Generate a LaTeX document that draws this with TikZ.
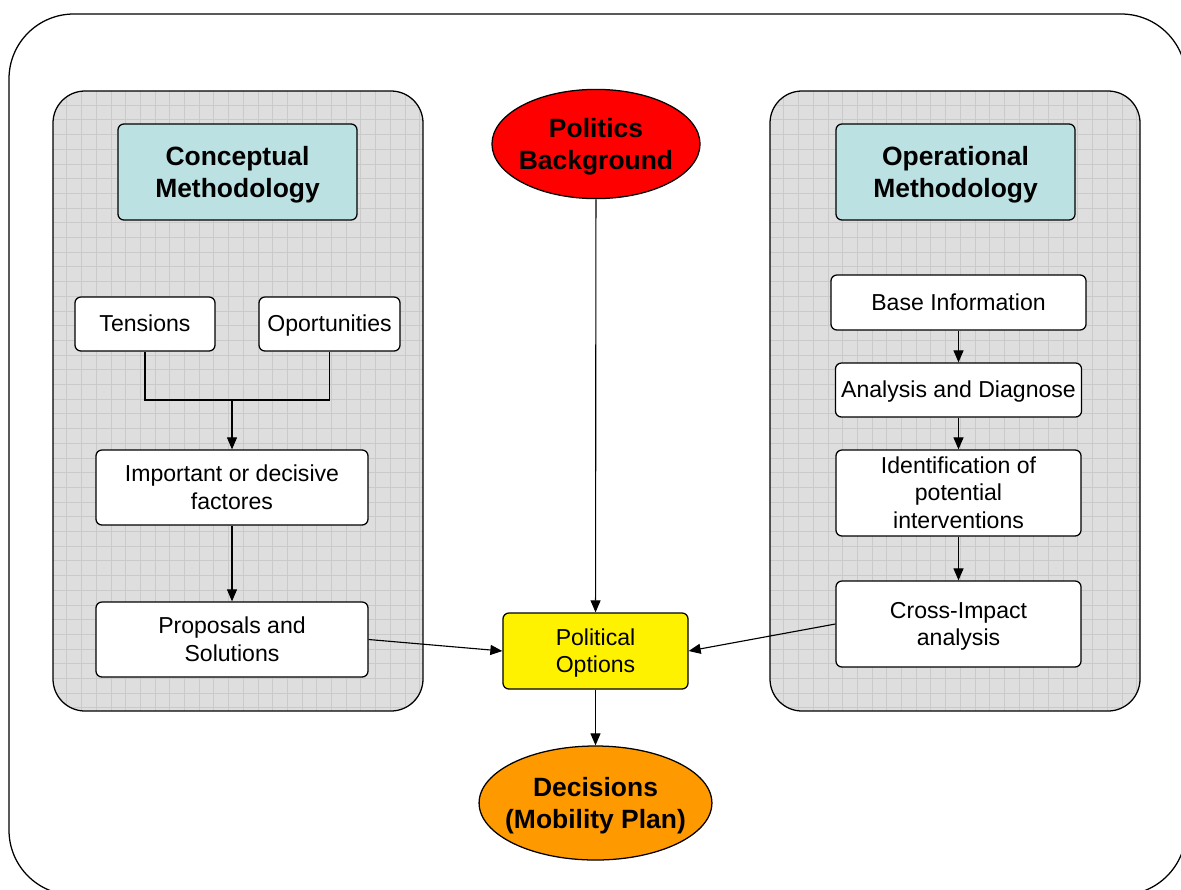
\documentclass[tikz,border=0pt]{standalone}
\usepackage{fontspec}
\setmainfont{Liberation Sans}
\usetikzlibrary{arrows.meta,shapes.geometric}
\definecolor{panelgray}{HTML}{DEDEDE}
\definecolor{gridgray}{HTML}{CACACA}
\definecolor{titlecyan}{HTML}{BCE1E2}
\definecolor{decorange}{HTML}{FF9900}
\tikzset{
  txt/.style={font=\fontsize{16.4}{19.9}\selectfont,align=center,inner sep=0pt,text depth=3.48pt},
  bold/.style={font=\fontsize{18.8}{22.8}\selectfont\bfseries,align=center,inner sep=0pt,text depth=3.99pt},
  one/.style={text height=14.84pt},
  two/.style={text height=34.74pt},
  three/.style={text height=54.64pt},
  btwo/.style={text height=39.8pt},
  box/.style={txt,draw,line width=0.9pt,fill=white,rounded corners=0.15cm},
  titlebox/.style={bold,btwo,draw,line width=0.9pt,fill=titlecyan,rounded corners=0.15cm},
  oval/.style={bold,btwo,draw,line width=0.9pt,ellipse},
  arr/.style={line width=0.8pt,-{Triangle[length=0.3cm,width=0.25cm]}}
}
\begin{document}
\begin{tikzpicture}[x=0.025cm,y=-0.025cm]
            \useasboundingbox (0,0) rectangle (1181,889);
            \fill[white] (0,0) rectangle (1181,889);
            \draw[line width=0.9pt,rounded corners=1.62cm] (9,14) rectangle (1186,895);
            % grey panels with grid
            \foreach \px in {53,770}{
              \begin{scope}
                \clip[rounded corners=0.8cm] (\px,91) rectangle ++(370,620);
                \fill[panelgray] (\px,91) rectangle ++(370,620);
                \foreach \gx in {13.7,28.4,...,370}
                  \draw[gridgray,line width=0.4pt] (\px+\gx,91) -- ++(0,620);
                \foreach \gy in {105,119.7,...,711}
                  \draw[gridgray,line width=0.4pt] (\px,\gy) -- ++(370,0);
              \end{scope}
              \draw[line width=0.9pt,rounded corners=0.8cm] (\px,91) rectangle ++(370,620);
            }
            % left column
            \node[titlebox,minimum width=5.975cm,minimum height=2.4cm](1)at(237.5,172){Conceptual\\Methodology};
            \node[box,one,minimum width=3.5cm,minimum height=1.35cm](2)at(145,324){Tensions};
            \node[box,one,minimum width=3.525cm,minimum height=1.35cm](3)at(329.5,324){Oportunities};
            \coordinate(4)at(232,400);
            \node[box,two,minimum width=6.8cm,minimum height=1.875cm](5)at(232,487.5){Important or decisive\\factores};
            \node[box,two,minimum width=6.8cm,minimum height=1.875cm](6)at(232,639.5){Proposals and\\Solutions};
            % middle column
            \node[oval,fill=red,inner xsep=-0.09cm,minimum width=5.2cm,minimum height=2.73cm](7)at(596,144){Politics\\Background};
            \node[box,two,fill=yellow,minimum width=4.625cm,minimum height=1.9cm](8)at(595.5,651){Political\\Options};
            \node[oval,fill=decorange,inner xsep=-0.2cm,minimum width=5.78cm,minimum height=2.85cm](9)at(595.5,803){Decisions\\(Mobility Plan)};
            % right column
            \node[titlebox,minimum width=5.975cm,minimum height=2.4cm](10)at(955.5,172){Operational\\Methodology};
            \node[box,one,minimum width=6.375cm,minimum height=1.375cm](11)at(958.5,302.5){Base Information};
            \node[box,one,minimum width=6.15cm,minimum height=1.35cm](12)at(958.5,390){Analysis and Diagnose};
            \node[box,three,minimum width=6.125cm,minimum height=2.15cm](13)at(958.5,493){Identification of\\potential\\interventions};
            \node[box,two,minimum width=6.125cm,minimum height=2.15cm](14)at(958.5,624){Cross-Impact\\analysis};
            % connectors
            \draw[line width=0.8pt](2)|-(4);
            \draw[line width=0.8pt](3)|-(4);
            \draw[arr](4)--(5);
            \draw[arr](5)--(6);
            \draw[arr](6.east)--(8.west);
            \draw[arr](7)--(8);
            \draw[arr](8)--(9);
            \draw[arr](11)--(12);
            \draw[arr](12)--(13);
            \draw[arr](13)--(14);
            \draw[arr](14.west)--(8.east);
\end{tikzpicture}
\end{document}
